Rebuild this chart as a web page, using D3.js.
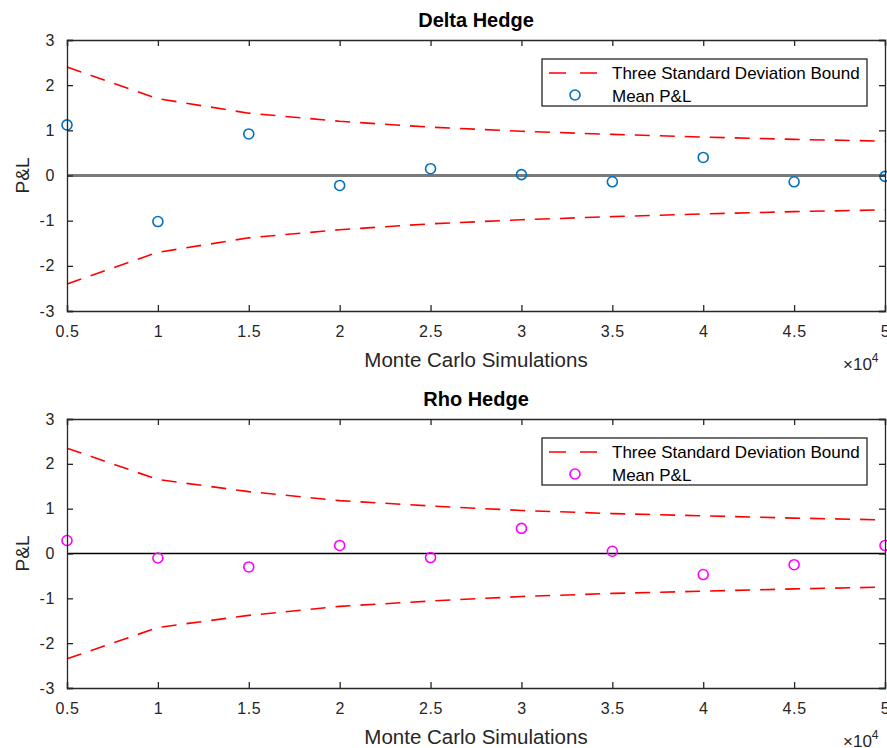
<!DOCTYPE html>
<html>
<head>
<meta charset="utf-8">
<script src="https://cdn.jsdelivr.net/npm/d3@7"></script>
<style>
  body { margin: 0; background: #fff; }
  svg { display: block; font-family: "Liberation Sans", Arial, Helvetica, sans-serif; }
</style>
</head>
<body>
<svg id="chart" width="887" height="748"></svg>
<script>
const simulations = [5000, 10000, 15000, 20000, 25000, 30000, 35000, 40000, 45000, 50000];
const xTicks = [5000, 10000, 15000, 20000, 25000, 30000, 35000, 40000, 45000, 50000];
const yTicks = [-3, -2, -1, 0, 1, 2, 3];

const deltaUpper = [2.40, 1.70, 1.38, 1.20, 1.07, 0.98, 0.91, 0.85, 0.80, 0.76];
const deltaLower = [-2.40, -1.70, -1.38, -1.20, -1.07, -0.98, -0.91, -0.85, -0.80, -0.76];
const deltaMean = [1.12, -1.02, 0.92, -0.22, 0.15, 0.02, -0.14, 0.40, -0.14, -0.02];

const rhoUpper = [2.35, 1.65, 1.38, 1.18, 1.06, 0.96, 0.89, 0.84, 0.79, 0.75];
const rhoLower = [-2.35, -1.65, -1.38, -1.18, -1.06, -0.96, -0.89, -0.84, -0.79, -0.75];
const rhoMean = [0.29, -0.10, -0.30, 0.18, -0.09, 0.56, 0.05, -0.47, -0.25, 0.18];

const svg = d3.select("#chart");
const axisColor = "#262626";

function drawPanel(opts) {
  const { top, bottom, title, upper, lower, mean, markerColor, zeroColor, zeroWidth } = opts;
  const left = 67, right = 885;

  const x = d3.scaleLinear().domain([5000, 50000]).range([left, right]);
  const y = d3.scaleLinear().domain([-3, 3]).range([bottom, top]);

  const g = svg.append("g");

  // zero line
  g.append("line")
    .attr("x1", left).attr("x2", right)
    .attr("y1", y(0)).attr("y2", y(0))
    .attr("stroke", zeroColor)
    .attr("stroke-width", zeroWidth);

  // bound lines
  const line = d3.line()
    .x((d, i) => x(simulations[i]))
    .y(d => y(d));

  [upper, lower].forEach(arr => {
    g.append("path")
      .datum(arr)
      .attr("fill", "none")
      .attr("stroke", "#ff0000")
      .attr("stroke-width", 1.6)
      .attr("stroke-dasharray", "15,10")
      .attr("d", line);
  });

  // mean markers
  g.selectAll(".dot")
    .data(mean)
    .enter()
    .append("circle")
    .attr("cx", (d, i) => x(simulations[i]))
    .attr("cy", d => y(d))
    .attr("r", 5)
    .attr("fill", "none")
    .attr("stroke", markerColor)
    .attr("stroke-width", 1.6);

  // Axes (MATLAB style box, inward ticks)
  g.append("g")
    .attr("transform", `translate(0,${bottom})`)
    .call(d3.axisBottom(x).tickValues(xTicks).tickSize(-6).tickPadding(15).tickFormat(d => String(d / 1e4)));
  g.append("g")
    .attr("transform", `translate(0,${top})`)
    .call(d3.axisTop(x).tickValues(xTicks).tickSize(-6).tickFormat(""));
  g.append("g")
    .attr("transform", `translate(${left},0)`)
    .call(d3.axisLeft(y).tickValues(yTicks).tickSize(-6).tickPadding(12).tickFormat(d => String(d)));
  g.append("g")
    .attr("transform", `translate(${right},0)`)
    .call(d3.axisRight(y).tickValues(yTicks).tickSize(-6).tickFormat(""));

  g.selectAll(".domain, .tick line")
    .attr("stroke", axisColor)
    .attr("stroke-width", 1.3);
  g.selectAll(".tick text")
    .attr("fill", axisColor)
    .style("font-size", "16px")
    .style("letter-spacing", "0.6px");

  // title
  g.append("text")
    .attr("x", (left + right) / 2)
    .attr("y", top - 13)
    .attr("text-anchor", "middle")
    .attr("fill", "#000")
    .style("font-size", "20px")
    .style("font-weight", "bold")
    .text(title);

  // x label
  g.append("text")
    .attr("x", (left + right) / 2)
    .attr("y", bottom + 56)
    .attr("text-anchor", "middle")
    .attr("fill", axisColor)
    .style("font-size", "20.5px")
    .text("Monte Carlo Simulations");

  // exponent
  const ex = g.append("text")
    .attr("x", 843)
    .attr("y", bottom + 59)
    .attr("text-anchor", "start")
    .attr("fill", axisColor)
    .style("font-size", "17px");
  ex.append("tspan").text("\u00d710");
  ex.append("tspan").attr("dy", -8).style("font-size", "12px").text("4");

  // y label
  g.append("text")
    .attr("transform", `translate(29,${y(0)}) rotate(-90)`)
    .attr("text-anchor", "middle")
    .attr("fill", axisColor)
    .style("font-size", "19px")
    .text("P&L");

  // legend
  const lg = g.append("g").attr("transform", `translate(542,${top + 19})`);
  lg.append("rect")
    .attr("x", 0).attr("y", 0)
    .attr("width", 325).attr("height", 47)
    .attr("fill", "#fff")
    .attr("stroke", axisColor)
    .attr("stroke-width", 1.3);
  lg.append("line")
    .attr("x1", 7).attr("x2", 56)
    .attr("y1", 14).attr("y2", 14)
    .attr("stroke", "#ff0000")
    .attr("stroke-width", 1.6)
    .attr("stroke-dasharray", "17,14");
  lg.append("circle")
    .attr("cx", 33).attr("cy", 36)
    .attr("r", 5)
    .attr("fill", "none")
    .attr("stroke", markerColor)
    .attr("stroke-width", 1.6);
  lg.append("text")
    .attr("x", 70).attr("y", 20)
    .attr("fill", "#000")
    .style("font-size", "17px")
    .text("Three Standard Deviation Bound");
  lg.append("text")
    .attr("x", 70).attr("y", 42.5)
    .attr("fill", "#000")
    .style("font-size", "17px")
    .text("Mean P&L");
}

drawPanel({
  top: 40, bottom: 311, title: "Delta Hedge",
  upper: deltaUpper, lower: deltaLower, mean: deltaMean,
  markerColor: "#0072bd", zeroColor: "#7a7a7a", zeroWidth: 3
});

drawPanel({
  top: 419, bottom: 688, title: "Rho Hedge",
  upper: rhoUpper, lower: rhoLower, mean: rhoMean,
  markerColor: "#ff00ff", zeroColor: "#000", zeroWidth: 1.3
});
</script>
</body>
</html>
